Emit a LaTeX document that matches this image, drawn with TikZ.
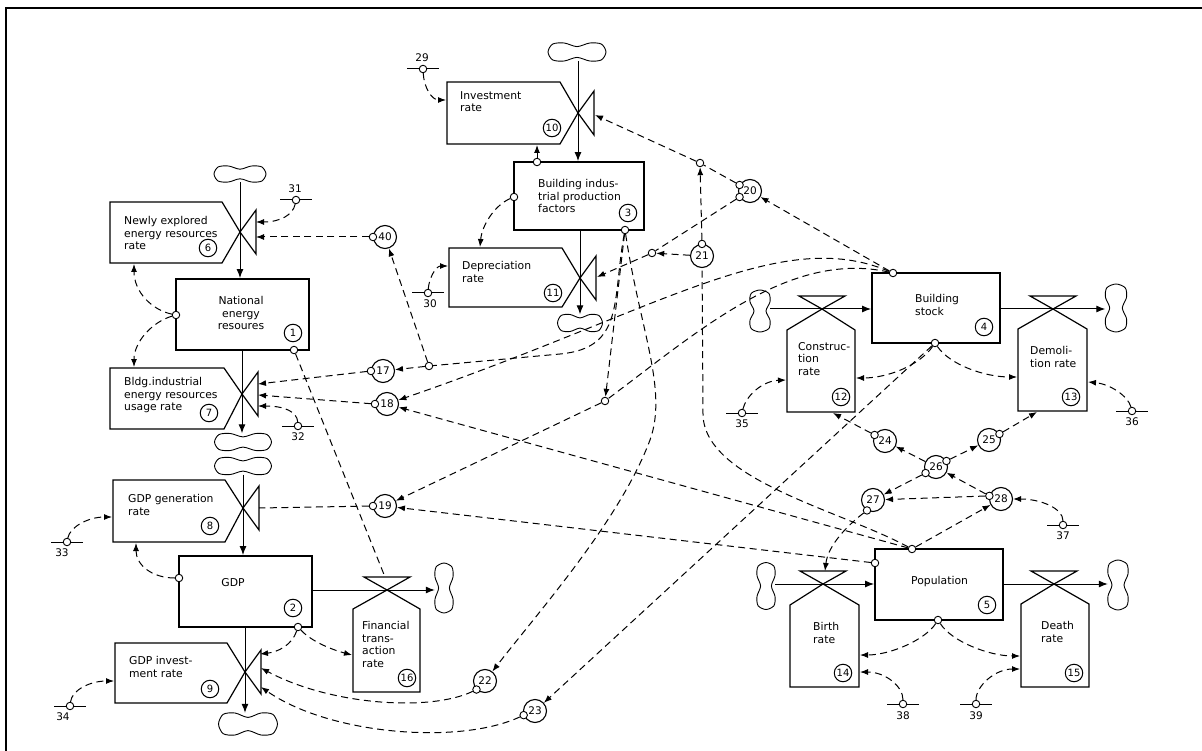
\documentclass[tikz,border=0pt]{standalone}
\usepackage{fontspec}
\setmainfont{DejaVu Sans}
\usetikzlibrary{arrows.meta,calc}
\newcommand\hcloud[5]{%
  \node[inner sep=0,minimum width=#4,minimum height=#5] (#1) at (#2,#3) {};
  \draw[cloudline,shift={(#2,#3)}] plot[smooth cycle] coordinates {(-0.5*#4,0) (-0.42*#4,-0.44*#5) (-0.22*#4,-0.5*#5) (0,-0.3*#5) (0.22*#4,-0.5*#5) (0.42*#4,-0.44*#5) (0.5*#4,0) (0.42*#4,0.44*#5) (0.22*#4,0.5*#5) (0,0.3*#5) (-0.22*#4,0.5*#5) (-0.42*#4,0.44*#5)};}
\newcommand\vcloud[5]{%
  \node[inner sep=0,minimum width=#4,minimum height=#5] (#1) at (#2,#3) {};
  \draw[cloudline,shift={(#2,#3)}] plot[smooth cycle] coordinates {(0,-0.5*#5) (0.44*#4,-0.42*#5) (0.5*#4,-0.22*#5) (0.3*#4,0) (0.5*#4,0.22*#5) (0.44*#4,0.42*#5) (0,0.5*#5) (-0.44*#4,0.42*#5) (-0.5*#4,0.22*#5) (-0.3*#4,0) (-0.5*#4,-0.22*#5) (-0.44*#4,-0.42*#5)};}
\newcommand\vrate[6]{% name,L,T,B,cx,cy
  \draw[ratebox] (#2,#3) -- (#5-18,#3) -- (#5,#6) -- (#5-18,#4) -- (#2,#4) -- cycle;
  \draw[ratebox] (#5,#6) -- (#5+16,#6-22) -- (#5+16,#6+22) -- cycle;
  \coordinate (#1) at (#5,#6);}
\newcommand\hrate[7]{% name,L,R,S,B,cx,cy
  \draw[ratebox] (#6,#7) -- (#3,#4) -- (#3,#5) -- (#2,#5) -- (#2,#4) -- cycle;
  \draw[ratebox] (#6,#7) -- (#6-23,#7-13) -- (#6+23,#7-13) -- cycle;
  \coordinate (#1) at (#6,#7);}
\newcommand\srcbar[3]{% name,x,y
  \draw[line width=1pt] (#2-16,#3) -- (#2+16,#3);
  \node[dot] (#1) at (#2,#3) {};}
\begin{document}
\begin{tikzpicture}[x=1pt,y=-1pt,
  font=\fontsize{10.8}{12.6}\selectfont,
  stock/.style={draw,line width=1.9pt,inner sep=0},
  ratebox/.style={line width=1.2pt,line join=miter},
  cloudline/.style={line width=0.9pt},
  flow/.style={line width=1pt,-{Latex[length=9pt,width=7pt]}},
  link/.style={line width=1pt,dash pattern=on 7pt off 4.5pt},
  arr/.style={-{Latex[length=8pt,width=6pt]}},
  dot/.style={circle,draw,fill=white,inner sep=0,minimum size=7.5pt,line width=0.9pt},
  aux/.style={circle,draw,fill=white,inner sep=0,minimum size=23pt,line width=1.1pt,font=\fontsize{10.5}{12}\selectfont},
  num/.style={circle,draw,inner sep=0,minimum size=17.5pt,line width=1pt,font=\fontsize{10}{11}\selectfont},
  lbl/.style={inner sep=0,font=\fontsize{10.5}{12}\selectfont},
  txt/.style={align=left,anchor=north west,inner sep=0}]
\fill[white] (0,0) rectangle (1202,751);
\useasboundingbox (0,0) rectangle (1202,751);
\draw[line width=2.4pt] (6,751) -- (6,8) -- (1202,8);

% ---------- stocks ----------
\node[stock,minimum width=133,minimum height=71] (S1) at (242.5,314.5) {};
\node[stock,minimum width=133,minimum height=71] (S2) at (245.5,591.5) {};
\node[stock,minimum width=130,minimum height=68] (S3) at (579,196) {};
\node[stock,minimum width=128,minimum height=70] (S4) at (936,308) {};
\node[stock,minimum width=128,minimum height=71] (S5) at (939,584.5) {};

% ---------- rate boxes and valves ----------
\vrate{V6}{110}{202}{263}{240}{232}
\vrate{V7}{110}{368}{429}{242}{394}
\vrate{V8}{113}{480}{542}{243}{508}
\vrate{V9}{115}{643}{703}{245}{672}
\vrate{V10}{447}{82}{144}{578}{113}
\vrate{V11}{449}{248}{307}{580}{278}
\hrate{V12}{787}{855}{330}{412}{822}{309}
\hrate{V13}{1018}{1087}{329}{411}{1053}{309}
\hrate{V14}{790}{859}{605}{687}{823}{584}
\hrate{V15}{1021}{1089}{604}{687}{1054}{584}
\hrate{V16}{353}{420}{609}{692}{387}{590}

% ---------- clouds ----------
\hcloud{C6}{240}{174}{52}{16}
\hcloud{C7a}{243}{442}{57}{17}
\hcloud{C7b}{243}{466}{57}{17}
\hcloud{C9}{248}{724}{59}{22}
\hcloud{C10}{577}{52}{58}{18}
\hcloud{C11}{580}{323}{45}{17}
\vcloud{C12}{760}{311}{20}{42}
\vcloud{C13}{1116}{308}{21}{48}
\vcloud{C14}{766}{586}{18}{47}
\vcloud{C15}{1118}{585}{20}{50}
\vcloud{C16}{444}{588}{18}{50}

% ---------- material flows ----------
\draw[flow] (C6.south) -- (C6.south |- S1.north);
\draw[flow] (V7 |- S1.south) -- (V7 |- C7a.north);
\draw[flow] (V8 |- C7b.south) -- (V8 |- S2.north);
\draw[flow] (V9 |- S2.south) -- (V9 |- C9.north);
\draw[flow] (V10 |- C10.south) -- (V10 |- S3.north);
\draw[flow] (V11 |- S3.south) -- (V11 |- C11.north);
\draw[flow] (C12.east |- V12) -- (S4.west |- V12);
\draw[flow] (S4.east |- V13) -- (C13.west |- V13);
\draw[flow] (C14.east |- V14) -- (S5.west |- V14);
\draw[flow] (S5.east |- V15) -- (C15.west |- V15);
\draw[flow] (S2.east |- V16) -- (C16.west |- V16);

% ---------- texts ----------
\node[txt] (t6) at (124,216) {Newly explored\\energy resources\\rate};
\node[txt] (t7) at (124,377) {Bldg.industrial\\energy resources\\usage rate};
\node[txt] (t8) at (128,494) {GDP generation\\rate};
\node[txt] (t9) at (129,656) {GDP invest-\\ment rate};
\node[txt] (t10) at (460,91) {Investment\\rate};
\node[txt] (t11) at (462,261) {Depreciation\\rate};
\node[txt] (t12) at (798,342) {Construc-\\tion\\rate};
\node[txt] (t13) at (1030,346) {Demoli-\\tion rate};
\node[txt] (t14) at (813,622) {Birth\\rate};
\node[txt] (t15) at (1041,621) {Death\\rate};
\node[txt] (t16) at (362,621) {Financial\\trans-\\action\\rate};
\node[align=center,anchor=north,inner sep=0] (t1) at (241,296) {National\\energy\\resoures};
\node[inner sep=0] (t2) at (233,583) {GDP};
\node[txt] (t3) at (538,179) {Building indus-\\trial production\\factors};
\node[txt] (t4) at (915,294) {Building\\stock};
\node[txt] (t5) at (911,576) {Population};

% ---------- numbers ----------
\node[num] (n1) at (293,333) {1};
\node[num] (n2) at (293,608) {2};
\node[num] (n3) at (628,213) {3};
\node[num] (n4) at (984,327) {4};
\node[num] (n5) at (987,605) {5};
\node[num] (n6) at (208,248) {6};
\node[num] (n7) at (209,413) {7};
\node[num] (n8) at (210,526) {8};
\node[num] (n9) at (210,689) {9};
\node[num] (n10) at (552,128) {10};
\node[num] (n11) at (553,293) {11};
\node[num] (n12) at (841,397) {12};
\node[num] (n13) at (1071,397) {13};
\node[num] (n14) at (843,673) {14};
\node[num] (n15) at (1074,673) {15};
\node[num] (n16) at (407,678) {16};

% ---------- auxiliaries ----------
\node[aux] (c17) at (383,371) {17};
\node[aux] (c18) at (387,404) {18};
\node[aux] (c19) at (385,506) {19};
\node[aux] (c20) at (750,191) {20};
\node[aux] (c21) at (702,256) {21};
\node[aux] (c22) at (485,681) {22};
\node[aux] (c23) at (535,711) {23};
\node[aux] (c24) at (885,441) {24};
\node[aux] (c25) at (989,440) {25};
\node[aux] (c26) at (936,467) {26};
\node[aux] (c27) at (873,500) {27};
\node[aux] (c28) at (1001,499) {28};
\node[aux] (c40) at (385,237) {40};
\node[dot] (c17o) at (c17.180) {};
\node[dot] (c18o) at (c18.180) {};
\node[dot] (c19o) at (c19.180) {};
\node[dot] (c20a) at (c20.150) {};
\node[dot] (c20b) at (c20.210) {};
\node[dot] (c21t) at (c21.90) {};
\node[dot] (c22o) at (c22.225) {};
\node[dot] (c23o) at (c23.200) {};
\node[dot] (c24o) at (c24.150) {};
\node[dot] (c25o) at (c25.30) {};
\node[dot] (c26a) at (c26.30) {};
\node[dot] (c26b) at (c26.210) {};
\node[dot] (c27o) at (c27.240) {};
\node[dot] (c28o) at (c28.165) {};
\node[dot] (c40o) at (c40.180) {};

% ---------- stock pick-off points ----------
\node[dot] (s1l) at (176,315) {};
\node[dot] (s1b) at (294,350) {};
\node[dot] (s2l) at (179,578) {};
\node[dot] (s2b) at (298,627) {};
\node[dot] (s3t) at (537,162) {};
\node[dot] (s3l) at (514,197) {};
\node[dot] (s3b) at (625,230) {};
\node[dot] (s4t) at (893,273) {};
\node[dot] (s4b) at (935,343) {};
\node[dot] (s5t) at (912,549) {};
\node[dot] (s5l) at (875,563) {};
\node[dot] (s5b) at (938,620) {};

% ---------- exogenous inputs ----------
\srcbar{s29}{423}{69}   \node[lbl] (l29) at (422,58) {29};
\srcbar{s30}{428}{293}  \node[lbl] (l30) at (430,304) {30};
\srcbar{s31}{296}{200}  \node[lbl] (l31) at (295,189) {31};
\srcbar{s32}{298}{426}  \node[lbl] (l32) at (298,437) {32};
\srcbar{s33}{67}{542}   \node[lbl] (l33) at (62,553) {33};
\srcbar{s34}{70}{706}   \node[lbl] (l34) at (63,717) {34};
\srcbar{s35}{742}{413}  \node[lbl] (l35) at (742,424) {35};
\srcbar{s36}{1132}{411} \node[lbl] (l36) at (1132,422) {36};
\srcbar{s37}{1063}{525} \node[lbl] (l37) at (1063,536) {37};
\srcbar{s38}{903}{704}  \node[lbl] (l38) at (903,716) {38};
\srcbar{s39}{976}{704}  \node[lbl] (l39) at (976,716) {39};

% ---------- branch points ----------
\node[dot] (b17) at (429,366) {};
\node[dot] (b19) at (605,401) {};
\node[dot] (b20) at (700,163) {};
\node[dot] (b21) at (652,253) {};

% ---------- information links ----------
\coordinate (V6i1) at (256,222);
\coordinate (V6i2) at (256,237);
\draw[link,arr] (s31) .. controls (293,215) and (280,222) .. (V6i1);
\draw[link,arr] (c40o) -- (V6i2);
\coordinate (B6b) at (134,264);
\coordinate (B7t) at (134,367);
\draw[link,arr] (s1l) .. controls (152,310) and (134,292) .. (B6b);
\draw[link,arr] (s1l) .. controls (152,322) and (134,342) .. (B7t);
\coordinate (V7i1) at (258,384);
\coordinate (V7i2) at (258,395);
\coordinate (V7i3) at (258,406);
\draw[link,arr] (c17o) -- (V7i1);
\draw[link,arr] (c18o) -- (V7i2);
\draw[link,arr] (s32) .. controls (297,412) and (285,406) .. (V7i3);
\coordinate (V16t) at (385,577);
\draw[link] (s1b) -- (V16t);
\coordinate (V8i) at (259,508);
\draw[link] (c19o) -- (V8i);
\coordinate (B8b) at (136,543);
\coordinate (B8l) at (112,517);
\coordinate (B9l) at (114,681);
\draw[link,arr] (s2l) .. controls (152,578) and (136,565) .. (B8b);
\draw[link,arr] (s33) .. controls (70,527) and (88,517) .. (B8l);
\draw[link,arr] (s34) .. controls (72,690) and (90,681) .. (B9l);
\coordinate (V9i1) at (260,654);
\coordinate (V9i2) at (261,668);
\coordinate (V9i3) at (261,687);
\coordinate (B16l) at (352,655);
\draw[link,arr] (s2b) .. controls (292,645) and (278,652) .. (V9i1);
\draw[link,arr] (s2b) .. controls (312,642) and (333,650) .. (B16l);
\draw[link,arr] (c22o) .. controls (430,712) and (330,705) .. (V9i2);
\draw[link,arr] (c23o) .. controls (460,745) and (330,735) .. (V9i3);

\coordinate (B10l) at (446,100);
\coordinate (B10b) at (537,145);
\coordinate (B11t) at (480,247);
\coordinate (B11l) at (448,266);
\draw[link,arr] (s29) .. controls (424,88) and (432,100) .. (B10l);
\draw[link,arr] (s3t) -- (B10b);
\draw[link,arr] (s3l) .. controls (495,205) and (482,225) .. (B11t);
\draw[link,arr] (s30) .. controls (429,278) and (436,266) .. (B11l);
\coordinate (V10i) at (595,115);
\coordinate (V11i) at (597,277);
\draw[link] (c20a) -- (b20);
\draw[link,arr] (b20) -- (V10i);
\draw[link] (c20b) -- (b21);
\draw[link,arr] (b21) -- (V11i);
\draw[link,arr] (c21t) -- (b20);
\draw[link,arr] (c21) -- (b21);
\draw[link,arr] (s4t) -- (c20);

\draw[link] (s3b) .. controls (612,300) and (625,348) .. (560,354) -- (b17);
\draw[link,arr] (b17) -- (c17);
\draw[link,arr] (b17) -- (c40);
\draw[link,arr] (s3b) -- (b19);
\draw[link,arr] (s4t) .. controls (780,225) and (660,310) .. (c18);
\draw[link] (s4t) .. controls (790,250) and (700,330) .. (b19);
\draw[link,arr] (b19) -- (c19);
\draw[link,arr] (s5t) -- (c18);
\draw[link,arr] (s5l) -- (c19);
\draw[link] (s5t) .. controls (840,510) and (705,480) .. (703,415) -- (c21);
\draw[link,arr] (s3b) .. controls (640,330) and (668,390) .. (650,440) .. controls (620,520) and (540,610) .. (c22);
\draw[link,arr] (s4b) -- (c23);

\coordinate (B12r) at (856,378);
\coordinate (B13l) at (1017,377);
\coordinate (B12l) at (786,380);
\coordinate (B13r) at (1088,382);
\coordinate (B12b) at (833,413);
\coordinate (B13b) at (1037,412);
\draw[link,arr] (s4b) .. controls (920,365) and (888,378) .. (B12r);
\draw[link,arr] (s4b) .. controls (950,365) and (985,377) .. (B13l);
\draw[link,arr] (s35) .. controls (746,396) and (762,381) .. (B12l);
\draw[link,arr] (s36) .. controls (1128,396) and (1110,384) .. (B13r);
\draw[link,arr] (c24o) -- (B12b);
\draw[link,arr] (c25o) -- (B13b);
\draw[link,arr] (c26) -- (c24);
\draw[link,arr] (c26a) -- (c25);
\draw[link,arr] (c26b) -- (c27);
\draw[link,arr] (c28o) -- (c26);
\draw[link,arr] (c28o) -- (c27);
\draw[link,arr] (s5t) -- (c28);
\draw[link,arr] (s37) .. controls (1063,508) and (1040,499) .. (c28);
\coordinate (V14t) at (825,571);
\draw[link,arr] (c27o) .. controls (848,525) and (828,545) .. (V14t);

\coordinate (B14r) at (860,655);
\coordinate (B15l) at (1020,656);
\coordinate (B14r2) at (860,672);
\coordinate (B15l2) at (1020,669);
\draw[link,arr] (s5b) .. controls (925,640) and (890,655) .. (B14r);
\draw[link,arr] (s5b) .. controls (952,642) and (990,656) .. (B15l);
\draw[link,arr] (s38) .. controls (903,686) and (885,672) .. (B14r2);
\draw[link,arr] (s39) .. controls (976,686) and (995,669) .. (B15l2);
\end{tikzpicture}
\end{document}
